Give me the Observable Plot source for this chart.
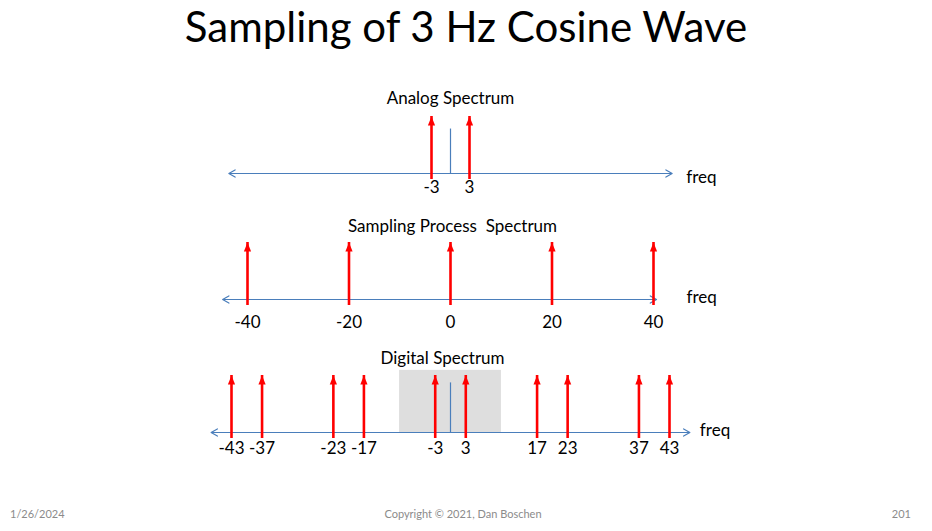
<!DOCTYPE html>
<html>
<head>
<meta charset="utf-8">
<script src="https://cdn.jsdelivr.net/npm/d3@7"></script>
<script src="https://cdn.jsdelivr.net/npm/@observablehq/plot@0.6"></script>
<style>
  html, body { margin: 0; padding: 0; background: #fff; }
  #slide { position: relative; width: 932px; height: 531px; overflow: hidden; font-family: Lato, "Open Sans", sans-serif; }
  #title { position: absolute; left: 0; width: 932px; top: -1px; text-align: center; font-size: 42px; line-height: 54px; color: #000; }
  .panel { position: absolute; left: 0; }
  .foot { position: absolute; top: 506px; font-size: 11px; color: #8b8b8b; line-height: 16px; }
</style>
</head>
<body>
<div id="slide">
  <div id="title">Sampling of 3 Hz Cosine Wave</div>
  <div class="foot" style="left:10px">1/26/2024</div>
  <div class="foot" style="left:0;width:926px;text-align:center">Copyright © 2021, Dan Boschen</div>
  <div class="foot" style="right:21px">201</div>
</div>
<script>
// ---- data ----
const analogFreqs = [-3, 3];
const samplingFreqs = [-40, -20, 0, 20, 40];
const digitalFreqs = [-43, -37, -23, -17, -3, 3, 17, 23, 37, 43];
const impulseHeight = 1;
const nyquistBand = [-10, 10];
const analogAxisExtent = [-35, 35];
const samplingAxisExtent = [-44.9, 40.6];
const digitalAxisExtent = [-47, 47];
const analogDcHeight = 0.78;
const digitalDcHeight = 0.87;
const bandHeight = 1.09;

const axisBlue = "#4a7ebb";
const font = "Lato, 'Open Sans', sans-serif";

const headSymbol = {
  draw(ctx, size) {
    ctx.moveTo(0, 0);
    ctx.lineTo(-3.6, 9);
    ctx.lineTo(3.6, 9);
    ctx.closePath();
  }
};

function panel(cfg) {
  const marks = [];
  if (cfg.band) {
    marks.push(Plot.rect([cfg.band], {x1: d => d[0], x2: d => d[1], y1: 0, y2: bandHeight, fill: "#dedede"}));
  }
  marks.push(Plot.arrow([{a: 0, b: cfg.extent[0]}, {a: 0, b: cfg.extent[1]}], {
    x1: "a", x2: "b", y1: 0, y2: 0, stroke: axisBlue, strokeWidth: 1.2, headLength: 9, headAngle: 60
  }));
  if (cfg.dc != null) {
    marks.push(Plot.ruleX([0], {x: d => d, y1: 0, y2: cfg.dc, stroke: axisBlue, strokeWidth: 1.2}));
  }
  marks.push(Plot.ruleX(cfg.freqs, {x: d => d, y1: 0, y2: impulseHeight, insetTop: 6, stroke: "#ff0000", strokeWidth: 2.6}));
  marks.push(Plot.dot(cfg.freqs, {x: d => d, y: impulseHeight, symbol: headSymbol, fill: "#ff0000", stroke: "none", r: 4}));
  marks.push(Plot.text(cfg.freqs, {x: d => d, y: 0, text: d => String(d), dy: cfg.labelDy, fontSize: 17, fill: "#000"}));
  marks.push(Plot.text(["freq"], {x: cfg.extent[1], y: 0, text: d => d, dx: cfg.freqDx, dy: cfg.freqDy, textAnchor: "start", fontSize: 17, fill: "#000"}));
  marks.push(Plot.text([cfg.title], {x: 0, frameAnchor: "top", lineAnchor: "middle", text: d => d, dx: cfg.titleDx || 0, dy: cfg.titleDy, fontSize: 17, fill: "#000"}));
  const svg = Plot.plot({
    width: 932,
    height: cfg.height,
    marginLeft: cfg.mL,
    marginRight: cfg.mR,
    marginTop: cfg.mT,
    marginBottom: cfg.mB,
    x: {domain: cfg.domain, axis: null},
    y: {domain: [0, 1], axis: null},
    style: {fontFamily: font, background: "transparent", overflow: "visible"},
    marks
  });
  const wrap = document.createElement("div");
  wrap.className = "panel";
  wrap.style.top = cfg.top + "px";
  wrap.appendChild(svg);
  document.getElementById("slide").appendChild(wrap);
}

panel({freqs: analogFreqs, extent: analogAxisExtent, dc: analogDcHeight,
  domain: [-3, 3], mL: 431, mR: 932 - 469, top: 85, height: 120, mT: 31, mB: 32,
  title: "Analog Spectrum", titleDy: -18, labelDy: 14, freqDx: 14, freqDy: 4});

panel({freqs: samplingFreqs, extent: samplingAxisExtent,
  domain: [-40, 40], mL: 247, mR: 932 - 653, top: 210, height: 120, mT: 32, mB: 31,
  title: "Sampling Process\u00a0 Spectrum", titleDx: 2, titleDy: -16, labelDy: 23, freqDx: 30, freqDy: -2});

panel({freqs: digitalFreqs, extent: digitalAxisExtent, dc: digitalDcHeight, band: nyquistBand,
  domain: [-43, 43], mL: 231, mR: 932 - 669, top: 345, height: 120, mT: 30, mB: 33,
  title: "Digital Spectrum", titleDx: -8, titleDy: -17, labelDy: 16, freqDx: 10, freqDy: -2});
</script>
</body>
</html>
